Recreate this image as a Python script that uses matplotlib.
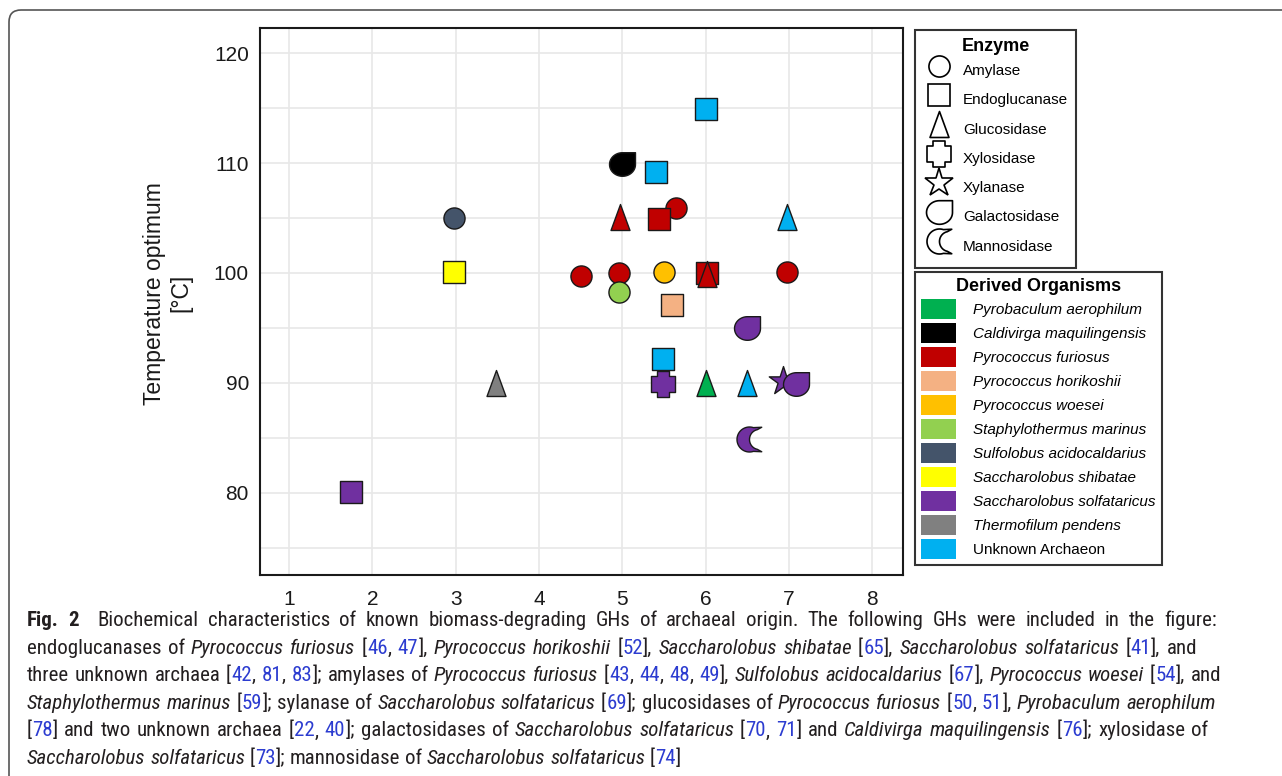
import re
import numpy as np
import matplotlib
matplotlib.use("Agg")
import matplotlib.pyplot as plt
from matplotlib import font_manager
from matplotlib.path import Path
from matplotlib.lines import Line2D
from matplotlib.patches import Patch, FancyBboxPatch

plt.rcParams['font.family'] = ['Liberation Sans', 'DejaVu Sans']

# ---------------- data ----------------
enzymes = ["Amylase", "Endoglucanase", "Glucosidase", "Xylosidase",
           "Xylanase", "Galactosidase", "Mannosidase"]

organisms = ["Pyrobaculum aerophilum", "Caldivirga maquilingensis",
             "Pyrococcus furiosus", "Pyrococcus horikoshii", "Pyrococcus woesei",
             "Staphylothermus marinus", "Sulfolobus acidocaldarius",
             "Saccharolobus shibatae", "Saccharolobus solfataricus",
             "Thermofilum pendens", "Unknown Archaeon"]
organism_colors = ["#00B050", "#000000", "#C00000", "#F4B183", "#FFC000",
                   "#92D050", "#44546A", "#FFFF00", "#7030A0", "#808080", "#00B0F0"]

point_enzyme = ["Endoglucanase", "Glucosidase", "Amylase", "Endoglucanase",
                "Amylase", "Amylase", "Amylase", "Galactosidase", "Glucosidase",
                "Endoglucanase", "Amylase", "Endoglucanase", "Amylase",
                "Endoglucanase", "Endoglucanase", "Endoglucanase", "Glucosidase",
                "Glucosidase", "Amylase", "Galactosidase", "Endoglucanase",
                "Xylosidase", "Glucosidase", "Glucosidase", "Xylanase",
                "Galactosidase", "Mannosidase"]
point_organism = ["Saccharolobus solfataricus", "Thermofilum pendens",
                  "Sulfolobus acidocaldarius", "Saccharolobus shibatae",
                  "Pyrococcus furiosus", "Pyrococcus furiosus",
                  "Staphylothermus marinus", "Caldivirga maquilingensis",
                  "Pyrococcus furiosus", "Unknown Archaeon", "Pyrococcus furiosus",
                  "Pyrococcus furiosus", "Pyrococcus woesei", "Pyrococcus horikoshii",
                  "Unknown Archaeon", "Pyrococcus furiosus", "Pyrococcus furiosus",
                  "Unknown Archaeon", "Pyrococcus furiosus",
                  "Saccharolobus solfataricus", "Unknown Archaeon",
                  "Saccharolobus solfataricus", "Pyrobaculum aerophilum",
                  "Unknown Archaeon", "Saccharolobus solfataricus",
                  "Saccharolobus solfataricus", "Saccharolobus solfataricus"]
point_x = [1.75, 3.48, 2.98, 2.98, 4.51, 4.96, 4.96, 5.0, 4.97, 5.40, 5.65,
           5.44, 5.50, 5.60, 6.0, 6.02, 6.02, 6.98, 6.98, 6.50, 5.49, 5.49,
           6.0, 6.5, 6.93, 7.08, 6.52]
point_y = [80.1, 90.0, 105.0, 100.1, 99.75, 100.0, 98.25, 109.9, 105.1, 109.2,
           105.9, 104.9, 100.1, 97.1, 114.9, 100.0, 99.9, 105.1, 100.1, 95.0,
           92.2, 89.9, 90.0, 90.0, 90.2, 89.9, 84.9]

x_ticks = [1, 2, 3, 4, 5, 6, 7, 8]
y_ticks = [80, 90, 100, 110, 120]
y_minor = [75, 85, 95, 105, 115]

caption_lines = [
    "^Fig. 2^  Biochemical characteristics of known biomass-degrading GHs of archaeal origin. The following GHs were included in the figure:",
    "endoglucanases of _Pyrococcus furiosus_ [{46}, {47}], _Pyrococcus horikoshii_ [{52}], _Saccharolobus shibatae_ [{65}], _Saccharolobus solfataricus_ [{41}], and",
    "three unknown archaea [{42}, {81}, {83}]; amylases of _Pyrococcus furiosus_ [{43}, {44}, {48}, {49}], _Sulfolobus acidocaldarius_ [{67}], _Pyrococcus woesei_ [{54}], and",
    "_Staphylothermus marinus_ [{59}]; sylanase of _Saccharolobus solfataricus_ [{69}]; glucosidases of _Pyrococcus furiosus_ [{50}, {51}], _Pyrobaculum aerophilum_",
    "[{78}] and two unknown archaea [{22}, {40}]; galactosidases of _Saccharolobus solfataricus_ [{70}, {71}] and _Caldivirga maquilingensis_ [{76}]; xylosidase of",
    "_Saccharolobus solfataricus_ [{73}]; mannosidase of _Saccharolobus solfataricus_ [{74}]",
]
caption_line_ends = [1217, 1197, 1221, 1216, 1208, None]

# ---------------- marker shapes ----------------
def closed(v):
    v = list(map(tuple, v)) + [tuple(v[0])]
    return Path(v, [Path.MOVETO] + [Path.LINETO] * (len(v) - 2) + [Path.CLOSEPOLY])

def galacto_path():
    t = np.linspace(np.pi / 2, 2 * np.pi, 50)
    v = np.column_stack([1.1 * np.cos(t), np.sin(t)]).tolist()
    v += [[1.1, 1.0]]
    return closed(v)

def crescent_path():
    t = np.deg2rad(np.linspace(72, 288, 60))
    outer = np.column_stack([np.cos(t), np.sin(t)])
    s = np.deg2rad(np.linspace(258, 102, 60))
    inner = np.column_stack([0.78 + 0.78 * np.cos(s), 0.8 * np.sin(s)])
    v = np.vstack([outer, [[0.98, -0.98]], inner, [[0.98, 0.98]]])
    return closed(v)

def cross_path():
    a, b, h, t = 0.46, 0.87, 0.6, 1.0
    return closed([(-a, t), (a, t), (a, h), (b, h), (b, -h), (a, -h), (a, -t),
                   (-a, -t), (-a, -h), (-b, -h), (-b, h), (-a, h)])

def tri_path():
    return closed([(0, 1), (-0.73, -1), (0.73, -1)])

marker_style = {
    "Amylase": ("o", 15.2),
    "Endoglucanase": ("s", 15.2),
    "Glucosidase": (tri_path(), 18.7),
    "Xylosidase": (cross_path(), 19.4),
    "Xylanase": ("*", 21.5),
    "Galactosidase": (galacto_path(), 18.7),
    "Mannosidase": (crescent_path(), 18.0),
}
color_of = dict(zip(organisms, organism_colors))

# ---------------- figure ----------------
W, H = 1282, 776
fig = plt.figure(figsize=(W / 100, H / 100), dpi=100)

frame = FancyBboxPatch((0.09, -1.0), 20, 7.66 + 1.0,
                       boxstyle="round,pad=0,rounding_size=0.12",
                       transform=fig.dpi_scale_trans, fill=False,
                       edgecolor="#555555", linewidth=1.2, zorder=0)
fig.add_artist(frame)

ax = fig.add_axes([260 / W, 1 - 575 / H, (903 - 260) / W, (575 - 28) / H])
ax.set_xlim(0.652, 8.37)
ax.set_ylim(72.5, 122.3)
ax.set_xticks(x_ticks)
ax.set_yticks(y_ticks)
ax.set_yticks(y_minor, minor=True)
ax.grid(True, which="both", color="#e8e8e8", linewidth=1.2, zorder=0)
ax.set_axisbelow(True)
ax.tick_params(which="both", length=0, labelsize=15, labelcolor="#1a1a1a")
ax.tick_params(axis="x", pad=11)
ax.tick_params(axis="y", pad=8)
for sp in ax.spines.values():
    sp.set_linewidth(1.5)
    sp.set_color("#1a1a1a")

for i in range(len(point_x)):
    mk, ms = marker_style[point_enzyme[i]]
    ax.scatter([point_x[i]], [point_y[i]], s=ms ** 2, marker=mk,
               facecolor=color_of[point_organism[i]], edgecolor="#1a1a1a",
               linewidth=1.0, zorder=3 + i * 0.01)

ax.set_ylabel("Temperature optimum\n[°C]", fontsize=16.5, color="#1a1a1a",
              linespacing=1.2)
ax.yaxis.set_label_coords(-0.105, 0.515)

# ---------------- legends ----------------
enz_handles = [Line2D([], [], linestyle="none", marker=marker_style[e][0],
                      markersize=marker_style[e][1], markerfacecolor="white",
                      markeredgecolor="black", markeredgewidth=1.2)
               for e in enzymes]
leg1 = fig.legend(enz_handles, enzymes, title="Enzyme", loc="upper left",
                  bbox_to_anchor=(915 / W, 1 - 30 / H), borderaxespad=0,
                  fontsize=11, title_fontproperties={"weight": "bold", "size": 13},
                  frameon=True, fancybox=False, edgecolor="black",
                  handlelength=2.1, handleheight=2.4, labelspacing=0.11,
                  handletextpad=0.52, borderpad=0.52)
leg1.get_frame().set_linewidth(1.5)

org_handles = [Patch(facecolor=c, edgecolor="none") for c in organism_colors]
leg2 = fig.legend(org_handles, organisms, title="Derived Organisms",
                  loc="upper left", bbox_to_anchor=(915 / W, 1 - 272 / H),
                  borderaxespad=0, fontsize=11,
                  title_fontproperties={"weight": "bold", "size": 13},
                  frameon=True, fancybox=False, edgecolor="black",
                  handlelength=2.3, handleheight=1.64, labelspacing=0.26,
                  handletextpad=1.1, borderpad=0.4)
leg2.get_frame().set_linewidth(1.5)
for t, name in zip(leg2.get_texts(), organisms):
    if name != "Unknown Archaeon":
        t.set_fontstyle("italic")

# ---------------- caption ----------------
renderer = fig.canvas.get_renderer()

def pick_caption_font():
    for fam in ["Liberation Sans Narrow", "Roboto Condensed", "Open Sans Condensed"]:
        try:
            font_manager.findfont(font_manager.FontProperties(family=fam),
                                  fallback_to_default=False)
            return [fam, "DejaVu Sans"], "normal"
        except Exception:
            pass
    fp = font_manager.FontProperties(family="DejaVu Sans", stretch="condensed")
    if "Condensed" in font_manager.findfont(fp):
        return ["DejaVu Sans"], "condensed"
    return ["Roboto", "DejaVu Sans"], "normal"

cap_font, cap_stretch = pick_caption_font()
cap_size = 15.0

def tw(txt, **kw):
    t = fig.text(0, 0, txt, fontsize=cap_size, family=cap_font,
                 fontstretch=cap_stretch, **kw)
    w = t.get_window_extent(renderer).width
    t.remove()
    return w

def adv(txt, **kw):
    return tw(txt + "l", **kw) - tw("l", **kw)

def parse(line):
    items = []
    for p in re.split(r"(\^[^\^]*\^|_[^_]*_|\{[^}]*\})", line):
        if not p:
            continue
        kw, color = {}, "#231f20"
        if p.startswith("^"):
            p = p[1:-1]; kw["fontweight"] = "bold"
        elif p.startswith("_"):
            p = p[1:-1]; kw["fontstyle"] = "italic"
        elif p.startswith("{"):
            p = p[1:-1]; color = "#2c3cd0"
        for j, piece in enumerate(p.split(" ")):
            if j > 0:
                items.append((None, color, kw))
            if piece:
                items.append((piece, color, kw))
    return items

y0, dy, x0 = 626, 27.6, 27.0
for li, line in enumerate(caption_lines):
    items = parse(line)
    widths = []
    for piece, color, kw in items:
        widths.append(adv(" ", **kw) if piece is None else adv(piece, **kw))
    nsp = sum(1 for it in items if it[0] is None)
    extra = 0.0
    if caption_line_ends[li] is not None and nsp:
        extra = (caption_line_ends[li] - x0 - sum(widths)) / nsp
    x = x0
    for (piece, color, kw), w in zip(items, widths):
        if piece is None:
            x += w + extra
            continue
        fig.text(x / W, 1 - (y0 + li * dy) / H, piece, fontsize=cap_size,
                 family=cap_font, fontstretch=cap_stretch, color=color,
                 va="baseline", ha="left", **kw)
        x += w

fig.savefig("out.png", dpi=100)
